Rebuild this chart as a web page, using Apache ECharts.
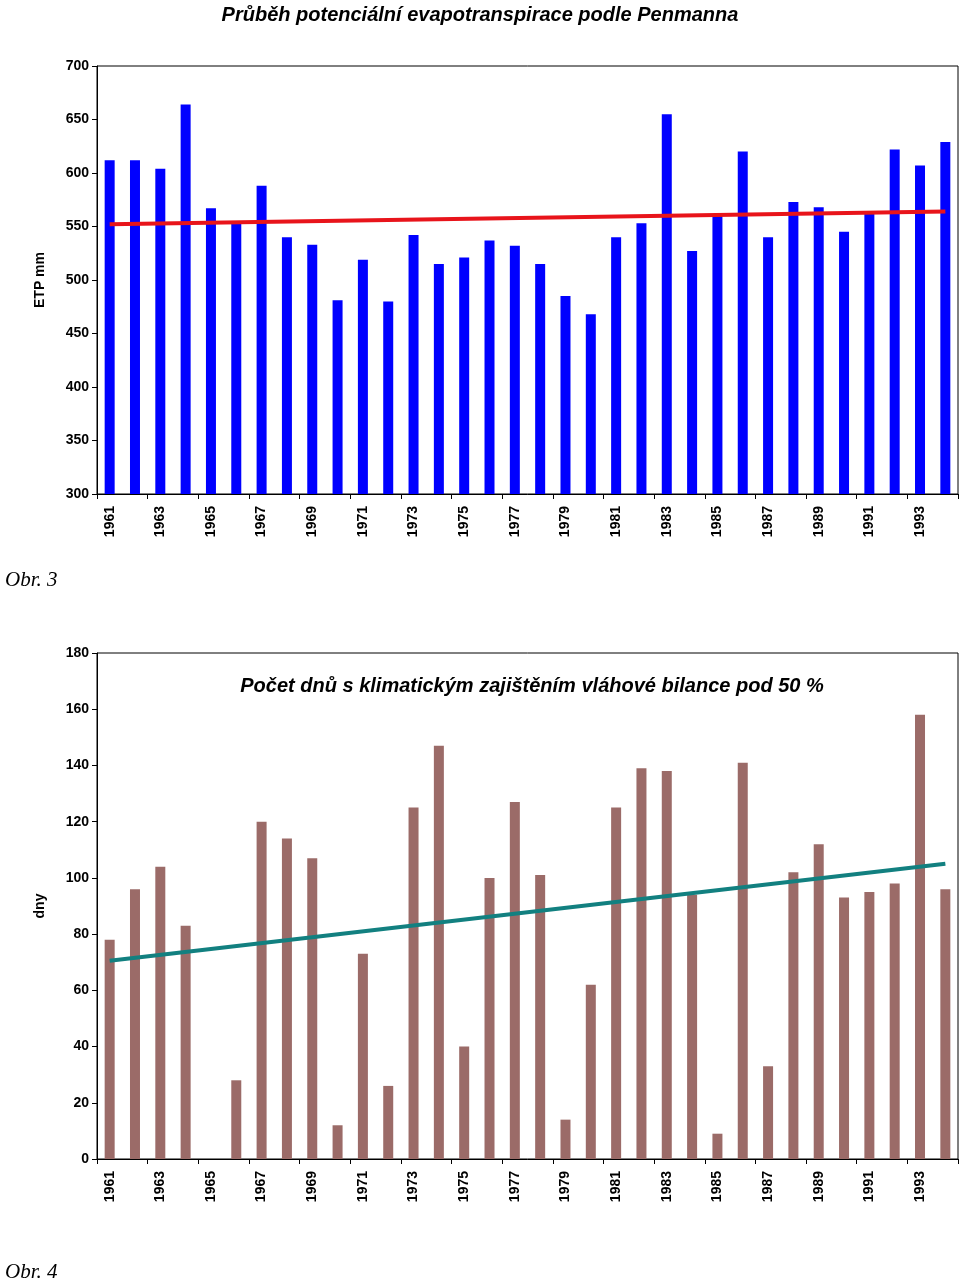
<!DOCTYPE html>
<html>
<head>
<meta charset="utf-8">
<script src="https://cdn.jsdelivr.net/npm/echarts@6/dist/echarts.min.js"></script>
<style>
  body { margin: 0; background: #fff; }
  #main { width: 960px; height: 1279px; }
</style>
</head>
<body>
<div id="main"></div>
<script>
const years = [];
for (let y = 1961; y <= 1994; y++) years.push(String(y));

// ETP podle Penmanna (mm)
const etp = [612, 612, 604, 664, 567, 554, 588, 540, 533, 481, 519, 480, 542, 515, 521, 537, 532,
    515, 485, 468, 540, 553, 655, 527, 560, 620, 540, 573, 568, 545, 563, 622, 607, 629];
const etpTrendEnds = [552, 564];

// pocet dnu
const dny = [78, 96, 104, 83, 0, 28, 120, 114, 107, 12, 73, 26, 125, 147, 40, 100, 127,
    101, 14, 62, 125, 139, 138, 94, 9, 141, 33, 102, 112, 93, 95, 98, 158, 96];
const dnyTrendEnds = [70.5, 105];

function trend(ends) {
    const d = years.map(() => null);
    d[0] = ends[0];
    d[d.length - 1] = ends[1];
    return d;
}

const labelFont = { fontFamily: 'Arial, Liberation Sans', fontSize: 14, fontWeight: 'bold', color: '#000' };

function xAxis(idx) {
    return {
        type: 'category', gridIndex: idx, data: years, boundaryGap: true,
        axisLine: { lineStyle: { color: '#000' } },
        axisTick: { show: true, alignWithLabel: false, length: 5, lineStyle: { color: '#000' } },
        axisLabel: Object.assign({ rotate: 90, interval: 1, margin: 12 }, labelFont)
    };
}

const chart = echarts.init(document.getElementById('main'));
chart.setOption({
    animation: false,
    title: [
        { text: 'Průběh potenciální evapotranspirace podle Penmanna', left: 'center', top: 0,
          textStyle: { fontFamily: 'Arial, Liberation Sans', fontSize: 20, fontWeight: 'bold', fontStyle: 'italic', color: '#000' } },
        { text: 'Počet dnů s klimatickým zajištěním vláhové bilance pod 50 %', left: 527, top: 671, textAlign: 'center',
          textStyle: { fontFamily: 'Arial, Liberation Sans', fontSize: 20, fontWeight: 'bold', fontStyle: 'italic', color: '#000' } },
        { text: 'Obr. 3', left: 0, top: 565,
          textStyle: { fontFamily: 'Liberation Serif, serif', fontSize: 21, fontWeight: 'normal', fontStyle: 'italic', color: '#000' } },
        { text: 'Obr. 4', left: 0, top: 1257,
          textStyle: { fontFamily: 'Liberation Serif, serif', fontSize: 21, fontWeight: 'normal', fontStyle: 'italic', color: '#000' } }
    ],
    grid: [
        { left: 97, right: 2, top: 66, height: 428, show: true, borderColor: '#000', borderWidth: 1 },
        { left: 97, right: 2, top: 653, height: 506, show: true, borderColor: '#000', borderWidth: 1 }
    ],
    xAxis: [xAxis(0), xAxis(1)],
    yAxis: [
        { type: 'value', gridIndex: 0, min: 300, max: 700, interval: 50,
          name: 'ETP mm', nameLocation: 'middle', nameGap: 50, nameTextStyle: labelFont,
          axisLine: { show: true, lineStyle: { color: '#000' } },
          axisTick: { show: true, lineStyle: { color: '#000' } },
          splitLine: { show: false }, axisLabel: labelFont },
        { type: 'value', gridIndex: 1, min: 0, max: 180, interval: 20,
          name: 'dny', nameLocation: 'middle', nameGap: 50, nameTextStyle: labelFont,
          axisLine: { show: true, lineStyle: { color: '#000' } },
          axisTick: { show: true, lineStyle: { color: '#000' } },
          splitLine: { show: false }, axisLabel: labelFont }
    ],
    series: [
        { type: 'bar', xAxisIndex: 0, yAxisIndex: 0, data: etp, barWidth: 10,
          itemStyle: { color: '#0000ff' } },
        { type: 'line', xAxisIndex: 0, yAxisIndex: 0, data: trend(etpTrendEnds), connectNulls: true,
          symbol: 'none', lineStyle: { color: '#e8141b', width: 4 } },
        { type: 'bar', xAxisIndex: 1, yAxisIndex: 1, data: dny, barWidth: 10,
          itemStyle: { color: '#9b6b68' } },
        { type: 'line', xAxisIndex: 1, yAxisIndex: 1, data: trend(dnyTrendEnds), connectNulls: true,
          symbol: 'none', lineStyle: { color: '#128080', width: 4 } }
    ]
});
</script>
</body>
</html>
